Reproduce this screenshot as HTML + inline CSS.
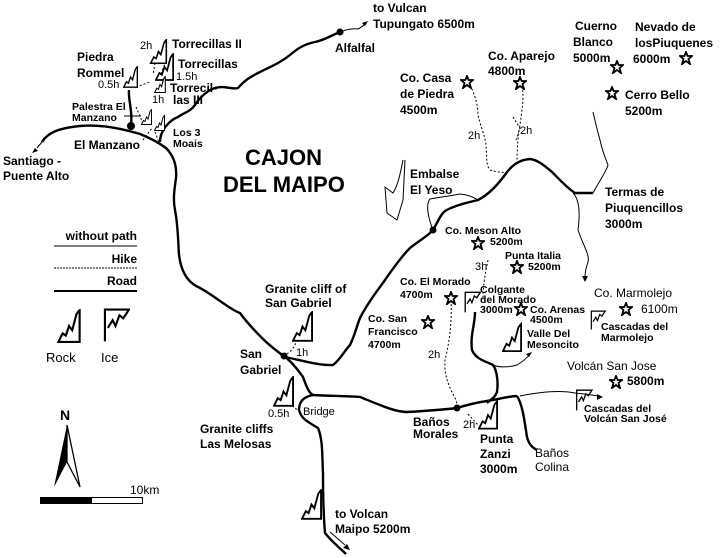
<!DOCTYPE html>
<html><head><meta charset="utf-8"><style>
html,body{margin:0;padding:0;background:#fff;}
svg{display:block}
text{font-family:"Liberation Sans",Arial,sans-serif;font-size:12px;font-weight:bold;fill:#000;}
.n{font-weight:normal;}
.s{font-size:10.5px;}
.h{font-weight:normal;font-size:11px;}
.big{font-size:22px;}
.r{fill:none;stroke:#000;stroke-width:2.4;stroke-linejoin:round;}
.t{fill:none;stroke:#000;stroke-width:1;}
.d{fill:none;stroke:#000;stroke-width:1;stroke-dasharray:2,2;}
</style></head><body>
<svg width="720" height="558" viewBox="0 0 720 558" xmlns="http://www.w3.org/2000/svg">
<defs>
<symbol id="rock" viewBox="-1 -1 22 32"><path d="M0,30 L4,22 L7,24 L10,15 L13,19 L17,4 L19,1 L20,0 L20,30 Z" fill="#fff" stroke="#000" stroke-width="2"/></symbol>
<symbol id="ice" viewBox="-1 -1 28 36"><path d="M1,34 L1,1 L26,1 L20,10 L16,7 L12,18 L9,12 L4,20" fill="none" stroke="#000" stroke-width="2.2"/></symbol>
<symbol id="star" viewBox="-7 -7 14 14"><polygon points="0,-6 1.6,-2 6,-2 2.5,1 4,6 0,3 -4,6 -2.5,1 -6,-2 -1.6,-2" fill="#fff" stroke="#000" stroke-width="1.8"/></symbol>
</defs>

<!-- Main roads -->
<path class="r" d="M42,142 C48,132 60,128 80,126 C100,124 120,128 140,134 C150,138 158,142 166,148 C174,156 177,166 176,178 C174,192 173,200 175,210 C178,225 178,240 179,255 C181,270 186,280 196,286 C210,292 230,310 240,313 C245,320 252,328 262,338 C270,346 278,352 285,357 C292,362 298,370 303,377 C306,385 308,392 313,395 C330,396 345,396 360,397 C380,405 395,412 407,412 C425,411 440,410 457,408 C470,404 480,402 487,401 C500,399 510,396 517,396"/>
<path class="r" d="M517,396 C523,405 525,425 527,437 C529,445 533,448 537,450"/>
<path class="r" d="M313,395 C302,397 299,403 299,410 C301,418 306,421 318,428 C323,440 322,455 323,473 C323,490 323,510 325,533 C332,542 340,548 346,554"/>
<path class="r" d="M285,357 C300,360 320,366 333,365 C340,360 345,350 350,345 C355,335 357,325 360,318 C368,302 378,290 385,280 C392,270 400,258 410,248 C420,240 428,236 433,230 C438,222 440,215 445,211 C455,205 470,202 478,200 C490,194 500,182 507,172 C512,166 518,160 530,159 C538,160 545,166 552,172 C560,180 567,188 575,193 C583,193 588,193 593,193"/>
<path class="r" d="M160,142 C160,130 170,120 178,117 C185,112 190,112 195,105 C200,97 208,90 215,88 C225,85 232,90 238,88 C245,80 250,77 260,72 C270,67 280,63 290,55 C298,48 305,44 315,42 C325,40 332,35 340,32"/>
<circle cx="340" cy="32" r="3.5"/>
<path class="t" d="M340,32 C345,30 352,28 358,29 C362,27 364,25 366,23"/><path d="M368,21 l-6,2 l3,3z"/>
<path class="r" d="M129,90 C128,100 133,112 131,124"/><circle cx="131" cy="126" r="4"/>
<!-- Santiago arrow -->
<path class="t" d="M42,142 L37,148"/><path d="M32,153 l6,-2 l-3,-3z"/>
<!-- lake -->
<path class="t" d="M403,160 C400,175 398,185 393,193 L385,187 L387,213 L397,220 L403,200 L405,160"/>
<path class="t" d="M433,230 C429,220 425,205 430,199 C440,197 450,196 460,194 C470,195 475,198 478,200"/>
<!-- termas -->
<path class="t" d="M593,193 C600,180 606,172 608,165 C604,155 601,145 600,140 C597,130 595,120 593,112"/>
<path class="t" d="M573,193 C580,200 580,215 578,230 C583,245 590,255 588,262 C585,270 585,275 585,278"/><path d="M585,282 l-3,-6 l6,0z"/>
<!-- Mesoncito road -->
<path class="r" d="M475,312 C475,325 470,335 472,350 C476,360 488,362 493,365 C498,372 498,385 497,392 C495,398 490,400 487,403"/>
<path class="t" d="M493,365 C500,368 510,367 517,365 C522,362 527,358 530,354"/><path d="M532,352 l-6,2 l3,3z"/>
<path class="t" d="M520,396 C540,392 560,390 575,393 C585,394 592,395 598,396"/><path d="M603,397 l-6,-3 l0,6z"/>
<path class="t" d="M330,532 L345,545"/><path d="M350,550 l-3,-6 l-4,4z"/>

<!-- hike dashed -->
<path class="d" d="M470,85 C475,95 478,105 478,115 C480,125 485,135 486,145 C487,160 486,165 490,170 C497,172 503,173 507,172"/>
<path class="d" d="M521,82 C525,95 522,110 520,125 C518,135 517,150 517,162"/>
<path class="d" d="M513,117 L520,128 L516,140"/>
<path class="d" d="M488,260 C485,275 483,285 483,300"/>
<path class="d" d="M451,300 C452,320 450,340 445,360 C444,375 448,385 456,400 C457,404 458,407 458,408"/>
<circle cx="457" cy="408" r="3.5"/>
<circle cx="433" cy="230" r="3.5"/>
<circle cx="284" cy="356" r="3.5"/>
<path class="d" d="M468,414 L478,425"/>
<path class="d" d="M287,354 C292,350 296,346 296,340"/>
<path class="d" d="M292,406 L302,413"/>
<path class="d" d="M136,87 L150,82"/><path class="d" d="M155,63 L153,75"/><path class="d" d="M166,61 L160,76"/>
<path class="d" d="M136,107 L140,116 L143,124"/><path class="d" d="M143,140 L152,128"/><path class="d" d="M155,132 L160,145"/>
<path class="t" d="M124,116 L141,116"/>

<!-- rocks -->
<use href="#rock" x="149" y="39" width="19" height="25"/>
<use href="#rock" x="155" y="53" width="19" height="28"/>
<use href="#rock" x="123" y="66" width="15" height="22"/>
<use href="#rock" x="153" y="76" width="14" height="17"/>
<use href="#rock" x="139" y="109" width="15" height="16"/>
<use href="#rock" x="154" y="115" width="11" height="16"/>
<use href="#rock" x="57" y="309" width="24" height="34"/>
<use href="#rock" x="292" y="311" width="21" height="31"/>
<use href="#rock" x="273" y="376" width="21" height="31"/>
<use href="#rock" x="301" y="489" width="21" height="31"/>
<use href="#rock" x="478" y="400" width="20" height="30"/>
<use href="#rock" x="502" y="322" width="20" height="31"/>
<use href="#ice" x="103" y="307" width="27" height="36"/>
<use href="#ice" x="464" y="291" width="17" height="22"/>
<use href="#ice" x="589" y="310" width="18" height="20"/>
<use href="#ice" x="575" y="389" width="18" height="22"/>

<!-- stars -->
<use href="#star" x="460" y="75" width="14" height="14"/>
<use href="#star" x="513" y="76" width="14" height="14"/>
<use href="#star" x="610" y="60" width="14" height="14"/>
<use href="#star" x="679" y="51" width="14" height="14"/>
<use href="#star" x="605" y="86" width="14" height="14"/>
<use href="#star" x="471" y="236" width="14" height="14"/>
<use href="#star" x="510" y="260" width="14" height="14"/>
<use href="#star" x="444" y="291" width="14" height="14"/>
<use href="#star" x="514" y="302" width="14" height="14"/>
<use href="#star" x="619" y="302" width="14" height="14"/>
<use href="#star" x="421" y="315" width="14" height="14"/>
<use href="#star" x="609" y="375" width="14" height="14"/>

<!-- legend -->
<text x="137" y="240" text-anchor="end">without path</text>
<line x1="54" y1="246" x2="137" y2="246" stroke="#000" stroke-width="1"/>
<text x="137" y="263" text-anchor="end">Hike</text>
<line x1="54" y1="268" x2="137" y2="268" stroke="#000" stroke-width="1" stroke-dasharray="2,1"/>
<text x="137" y="285" text-anchor="end">Road</text>
<line x1="54" y1="291" x2="137" y2="291" stroke="#000" stroke-width="2"/>
<text class="n" x="46" y="362" style="font-size:13px">Rock</text>
<text class="n" x="101" y="362" style="font-size:13px">Ice</text>
<!-- north -->
<text x="60" y="420" style="font-size:14px">N</text>
<polygon points="67,425 54,487 67,462" fill="#000"/>
<polygon points="67,425 80,487 67,462" fill="#fff" stroke="#000" stroke-width="1.3"/>
<rect x="40.5" y="497.5" width="102" height="6" fill="#fff" stroke="#000"/>
<rect x="40" y="497" width="52" height="7" fill="#000"/>
<text class="n" x="130" y="494">10km</text>

<!-- labels -->
<text x="373" y="12">to Vulcan</text>
<text x="373" y="28">Tupungato 6500m</text>
<text x="335" y="52">Alfalfal</text>
<text class="h" x="140" y="49">2h</text>
<text x="172" y="48">Torrecillas II</text>
<text x="77" y="61">Piedra</text>
<text x="77" y="77">Rommel</text>
<text x="178" y="68">Torrecillas</text>
<text class="h" x="176" y="80">1.5h</text>
<text class="h" x="98" y="88">0.5h</text>
<text x="170" y="92">Torrecil-</text>
<text x="173" y="104">las III</text>
<text class="h" x="152" y="103">1h</text>
<text class="s" x="72" y="110">Palestra El</text>
<text class="s" x="72" y="121">Manzano</text>
<text class="s" x="173" y="136">Los 3</text>
<text class="s" x="173" y="147">Moais</text>
<text x="74" y="149">El Manzano</text>
<text x="3" y="165">Santiago -</text>
<text x="3" y="180">Puente Alto</text>
<text class="big" x="245" y="165">CAJON</text>
<text class="big" x="223" y="192">DEL MAIPO</text>
<text x="488" y="60">Co. Aparejo</text>
<text x="488" y="75">4800m</text>
<text x="575" y="30">Cuerno</text>
<text x="573" y="46">Blanco</text>
<text x="573" y="62">5000m</text>
<text x="635" y="31">Nevado de</text>
<text x="635" y="47">losPiuquenes</text>
<text x="633" y="63">6000m</text>
<text x="400" y="82">Co. Casa</text>
<text x="400" y="98">de Piedra</text>
<text x="400" y="114">4500m</text>
<text x="625" y="99">Cerro Bello</text>
<text x="625" y="115">5200m</text>
<text class="h" x="468" y="139">2h</text>
<text class="h" x="520" y="134">2h</text>
<text x="410" y="178">Embalse</text>
<text x="410" y="194">El Yeso</text>
<text x="605" y="196">Termas de</text>
<text x="605" y="212">Piuquencillos</text>
<text x="605" y="228">3000m</text>
<text class="s" x="445" y="234">Co. Meson Alto</text>
<text class="s" x="490" y="245">5200m</text>
<text class="s" x="505" y="259">Punta Italia</text>
<text class="s" x="528" y="270">5200m</text>
<text class="h" x="475" y="270">3h</text>
<text class="s" x="400" y="285">Co. El Morado</text>
<text class="s" x="400" y="298">4700m</text>
<text class="s" x="480" y="293">Colgante</text>
<text class="s" x="480" y="303">del Morado</text>
<text class="s" x="480" y="313">3000m</text>
<text class="s" x="530" y="313">Co. Arenas</text>
<text class="s" x="530" y="323">4500m</text>
<text class="n" x="594" y="297" style="font-size:12px">Co. Marmolejo</text>
<text class="n" x="641" y="313" style="font-size:12px">6100m</text>
<text class="s" x="601" y="330">Cascadas del</text>
<text class="s" x="601" y="341">Marmolejo</text>
<text class="s" x="368" y="322">Co. San</text>
<text class="s" x="368" y="335">Francisco</text>
<text class="s" x="368" y="348">4700m</text>
<text class="s" x="527" y="337">Valle Del</text>
<text class="s" x="527" y="348">Mesoncito</text>
<text class="n" x="567" y="370">Volcán San Jose</text>
<text x="627" y="385">5800m</text>
<text class="s" x="584" y="412">Cascadas del</text>
<text class="s" x="584" y="422">Volcán San José</text>
<text class="h" x="428" y="358">2h</text>
<text x="413" y="426">Baños</text>
<text x="413" y="438">Morales</text>
<text class="h" x="463" y="428">2h</text>
<text x="480" y="443">Punta</text>
<text x="480" y="458">Zanzi</text>
<text x="480" y="473">3000m</text>
<text class="n" x="535" y="457">Baños</text>
<text class="n" x="535" y="471">Colina</text>
<text x="265" y="293">Granite cliff of</text>
<text x="265" y="307">San Gabriel</text>
<text class="h" x="296" y="356">1h</text>
<text x="240" y="358">San</text>
<text x="240" y="374">Gabriel</text>
<text class="h" x="268" y="417">0.5h</text>
<text class="h" x="303" y="415">Bridge</text>
<text x="200" y="433">Granite cliffs</text>
<text x="200" y="448">Las Melosas</text>
<text x="335" y="518">to Volcan</text>
<text x="335" y="533">Maipo 5200m</text>
</svg>
</body></html>
